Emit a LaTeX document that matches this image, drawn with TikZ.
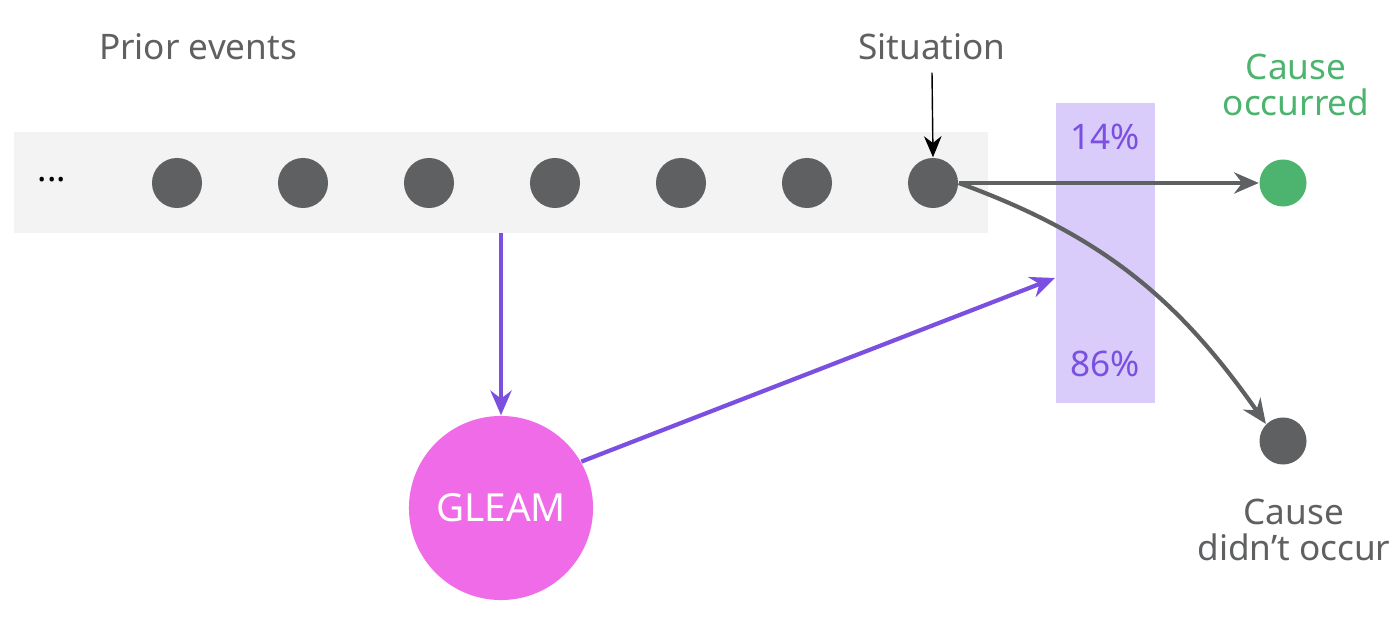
\documentclass[tikz,border=0pt]{standalone}
\usepackage{fontspec}
\setmainfont{Noto Sans}
\usetikzlibrary{arrows.meta,positioning}
\definecolor{evgray}{HTML}{5F6061}
\definecolor{bandgray}{HTML}{F2F3F2}
\definecolor{probfill}{HTML}{D9CCFA}
\definecolor{probtext}{HTML}{7B4FE0}
\definecolor{okgreen}{HTML}{4CB46E}
\definecolor{gleampink}{HTML}{EF6BE7}
\begin{document}
\begin{tikzpicture}[x=0.01cm,y=-0.01cm,
font=\fontsize{10}{12}\selectfont,
event/.style={circle,fill=evgray,inner sep=0pt,minimum size=50\pgflinewidth*0+0.5cm},
flow/.style={-{Stealth[length=7pt,width=6pt]},evgray,line width=1.2pt},
learn/.style={-{Stealth[length=7pt,width=6pt]},probtext,line width=1.2pt},
lbl/.style={text=evgray}]
    % Frame
    \useasboundingbox (0,0) rectangle (1400,619);
    \fill[bandgray] (14,132) rectangle (988,233);
    \fill[probfill] (1056,103) rectangle (1155,403);
    \coordinate (bandtop) at (501,233);
    \coordinate (probin) at (1055,278);

    % Events
    \node at (52,180) {\textbf{...}};
    \foreach \i/\x in {1/177,2/303,3/429,4/555,5/681,6/807,7/933}
        \node[event] (e\i) at (\x,183) {};
    \node[lbl] (prior) at (198,47) {Prior events};
    \node[lbl] (sit) at (932,47) {Situation};
    \draw[-{Stealth[length=6pt,width=5pt]},black] (sit.south) -- (e7.north);

    % Outcomes
    \node[event,fill=okgreen,minimum size=0.47cm] (yes) at (1283,183) {};
    \node[event,minimum size=0.47cm] (no) at (1283,441) {};
    \node[text=okgreen,font=\fontsize{10}{12}\selectfont\bfseries,align=center] at (1296,85) {Cause\\[-2pt]occurred};
    \node[lbl,anchor=west,align=center] at (1185,530) {Cause\\[-2pt]didn’t occur};
    \draw[flow] (e7) -- (yes);
    \draw[flow] (e7.east) to[out=-20,in=125] (no.north west);

    % Probabilities
    \node[text=probtext] (p14) at (1105,137) {14\%};
    \node[text=probtext] (p86) at (1105,364) {86\%};

    % Model
    \node[circle,fill=gleampink,minimum size=1.84cm,text=white,font=\fontsize{11}{13}\selectfont] (gleam) at (501,508) {GLEAM};
    \draw[learn] (bandtop) -- (gleam.north);
    \draw[learn] (gleam.30) -- (probin);
\end{tikzpicture}
\end{document}
